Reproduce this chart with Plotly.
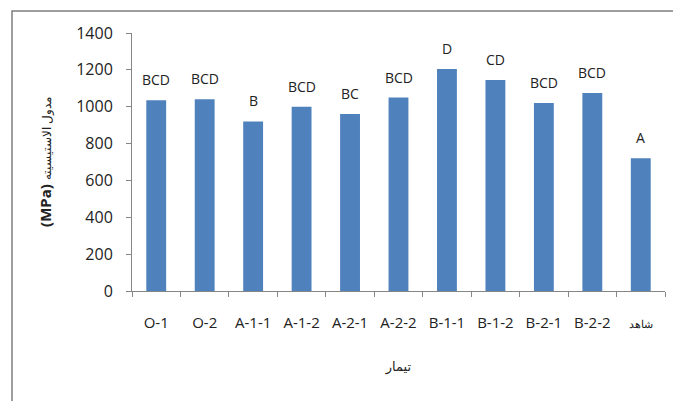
import plotly.graph_objects as go

categories = ["O-1", "O-2", "A-1-1", "A-1-2", "A-2-1", "A-2-2", "B-1-1", "B-1-2", "B-2-1", "B-2-2", "شاهد"]
values = [1035, 1040, 920, 1000, 960, 1050, 1205, 1145, 1020, 1075, 720]
letters = ["BCD", "BCD", "B", "BCD", "BC", "BCD", "D", "CD", "BCD", "BCD", "A"]
y_ticks = [0, 200, 400, 600, 800, 1000, 1200, 1400]

tick_text = [c if c != "شاهد" else "<span style='font-size:11px'>" + c + "</span>" for c in categories]

W, H = 673, 401
L, R, T, B = 132, 8, 33, 110
pw, ph = W - L - R, H - T - B

fig = go.Figure()
fig.add_trace(go.Bar(x=categories, y=values, marker=dict(color="#4F81BD", line=dict(width=0)),
                     width=0.41, hoverinfo="x+y"))

for c, v, t in zip(categories, values, letters):
    fig.add_annotation(x=c, y=v, text=t, showarrow=False, yanchor="bottom", yshift=9,
                       font=dict(family="Open Sans", size=14, color="#222"))

fig.add_shape(type="rect", xref="paper", yref="paper",
              x0=(12 - L) / pw, x1=1.2, y0=-0.8, y1=(H - B - 11) / ph,
              line=dict(color="#7f7f7f", width=1.5), layer="below")

fig.update_layout(
    width=W, height=H,
    margin=dict(l=L, r=R, t=T, b=B, autoexpand=False),
    paper_bgcolor="white", plot_bgcolor="white",
    showlegend=False,
    font=dict(family="Open Sans", size=15, color="#222"),
    xaxis=dict(tickmode="array", tickvals=categories, ticktext=tick_text,
               tickson="boundaries", ticks="outside", ticklen=5, tickcolor="#868686",
               showline=True, linecolor="#868686", linewidth=1, showgrid=False,
               ticklabelstandoff=18, automargin=False, tickfont=dict(size=15),
               title=dict(text="تیمار", font=dict(family="DejaVu Sans", size=13), standoff=30)),
    yaxis=dict(range=[0, 1400], tickvals=y_ticks, ticks="outside", ticklen=5, tickcolor="#868686",
               showline=True, linecolor="#868686", linewidth=1, showgrid=False,
               ticklabelstandoff=10, zeroline=False, automargin=False, tickfont=dict(size=16),
               title=dict(text="<b>(MPa)</b> <span style='font-size:12px'>مدول الاستیسیته</span>",
                          font=dict(family="Open Sans", size=15), standoff=20)),
)

fig.write_html("out.html", config={"displayModeBar": False},
               post_script="document.body.style.margin='0px';")
